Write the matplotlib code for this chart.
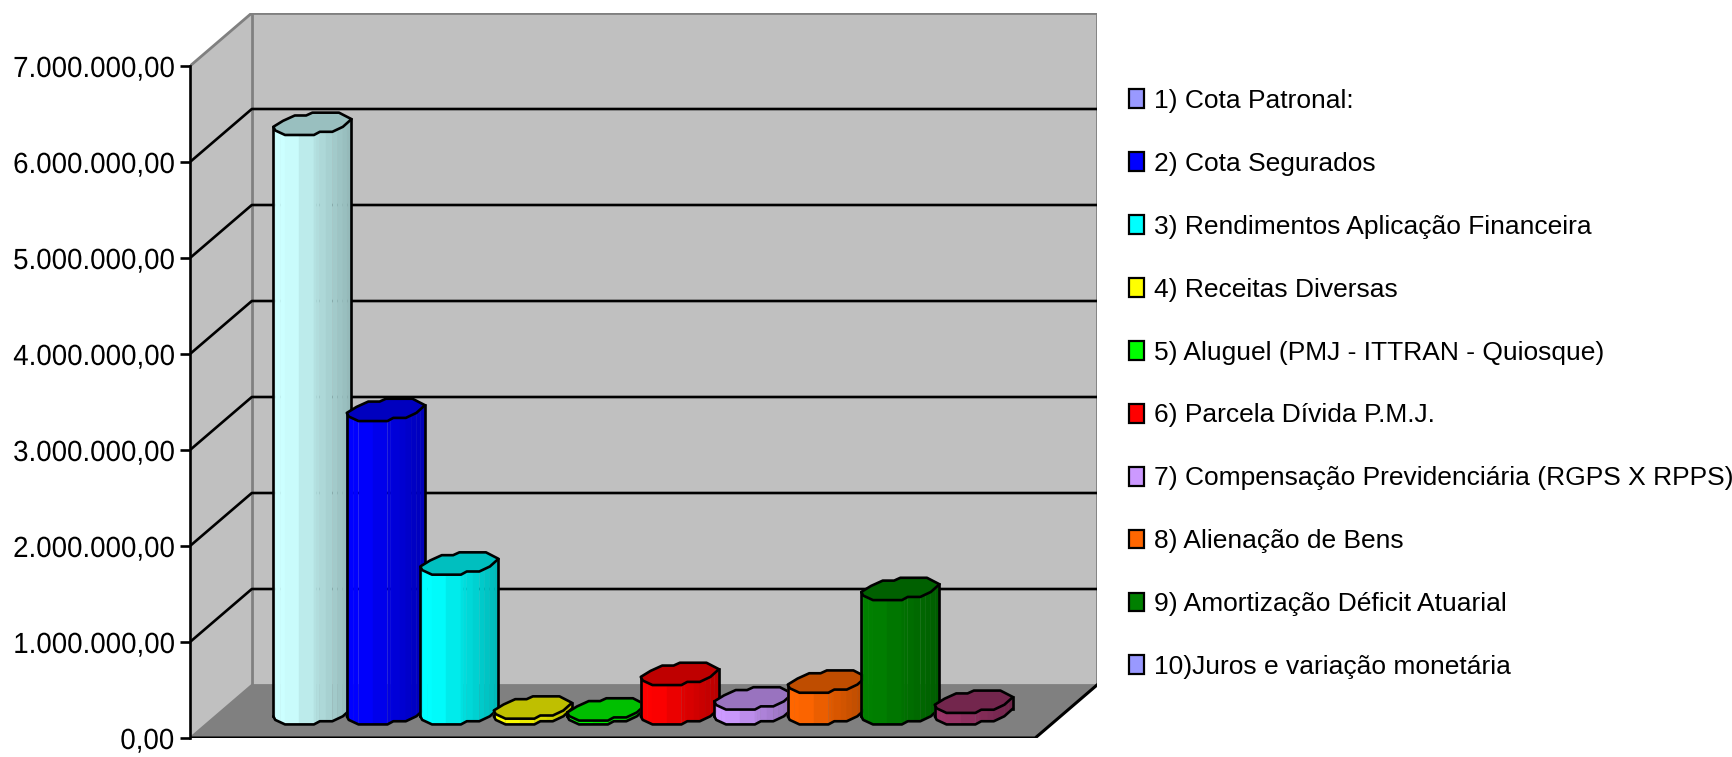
#!/usr/bin/env python3
import matplotlib
matplotlib.use('Agg')
import matplotlib.pyplot as plt
from matplotlib.colors import to_rgb
from matplotlib.patches import Patch, Polygon
from matplotlib.patheffects import AbstractPathEffect
from matplotlib.ticker import FuncFormatter
from matplotlib.transforms import Affine2D
import numpy as np

# ── Data ─────────────────────────────────────────────────────────
LABELS = ["1) Cota Patronal:", "2) Cota Segurados",
          "3) Rendimentos Aplicação Financeira", "4) Receitas Diversas",
          "5) Aluguel (PMJ - ITTRAN - Quiosque)", "6) Parcela Dívida P.M.J.",
          "7) Compensação Previdenciária (RGPS X RPPS)", "8) Alienação de Bens",
          "9) Amortização Déficit Atuarial", "10)Juros e variação monetária"]
VALUES = [6140000, 3160000, 1560000, 60000, 40000,
          410000, 155000, 330000, 1295000, 120000]
BAR_COLORS = ["#CCFFFF", "#0000FF", "#00FFFF", "#FFFF00", "#00FF00",
              "#FF0000", "#CC99FF", "#FF6600", "#008000", "#993366"]
LEGEND_COLORS = ["#9999FF", "#0000FF", "#00FFFF", "#FFFF00", "#00FF00",
                 "#FF0000", "#CC99FF", "#FF6600", "#008000", "#9999FF"]
TICKS = [0, 1000000, 2000000, 3000000, 4000000, 5000000, 6000000, 7000000]

# ── Style ────────────────────────────────────────────────────────
FONT = "Liberation Sans"
WALL = "#C0C0C0"
FLOOR = "#808080"
LW = 1.9

# oblique depth of the box, in data units
DX = 0.841
DY = 552000
XMAX = 11.5
YMAX = TICKS[-1]
BAR_DEPTH = 0.47
HALF_X = 0.532
HALF_Y = 118000

# lumpy outline of a cylinder cap (Excel draws them like this)
CAP_X = [-1.0, -.75, -.45, -.16, 0, .68, 1.0, .78, .51, .19, .04, -.7, -.95]
CAP_Y = [-.28, .25, .72, .72, .97, .97, .4, -.28, -.72, -.72, -1.0, -1.0, -.6]


class Squeeze(AbstractPathEffect):
    """Narrows a right aligned text, the original font is a condensed Arial."""

    def __init__(self, sx):
        super().__init__()
        self.sx = sx

    def draw_path(self, renderer, gc, tpath, affine, rgbFace=None):
        x0 = tpath.get_extents().x1
        t = Affine2D().translate(-x0, 0).scale(self.sx, 1).translate(x0, 0)
        renderer.draw_path(gc, tpath, t + affine, rgbFace)


def fmt_br(v, _pos=None):
    s = f"{v:,.2f}"
    return s.replace(",", "X").replace(".", ",").replace("X", ".")


def shade(color, f):
    return tuple(c * f for c in to_rgb(color))


def draw_box(ax):
    ax.add_patch(Polygon([(0, 0), (DX, DY), (DX, YMAX + DY), (0, YMAX)],
                         fc=WALL, ec="none", zorder=1))
    ax.add_patch(Polygon([(DX, DY), (XMAX + DX, DY), (XMAX + DX, YMAX + DY), (DX, YMAX + DY)],
                         fc=WALL, ec=FLOOR, lw=2, zorder=1))
    ax.add_patch(Polygon([(0, 0), (XMAX, 0), (XMAX + DX, DY), (DX, DY)],
                         fc=FLOOR, ec="none", zorder=1))
    for v in TICKS[1:-1]:
        ax.plot([0, DX, XMAX + DX], [v, v + DY, v + DY], color="black", lw=LW, zorder=2)
    ax.plot([0, DX], [YMAX, YMAX + DY], color=FLOOR, lw=2, zorder=2)
    ax.plot([0, DX], [0, DY], color=FLOOR, lw=1.5, zorder=2)
    ax.plot([0, XMAX, XMAX + DX], [0, 0, DY], color="black", lw=2.2, zorder=2)


def draw_cylinder(ax, i, value, color):
    cx = i + 1.27 + BAR_DEPTH * DX
    base = BAR_DEPTH * DY
    top = value + base
    px = cx + np.array(CAP_X) * HALF_X
    py = np.array(CAP_Y) * HALF_Y

    # lower chain of the outline, left to right, doubled up for thin bands
    chain = [0, 12, 11, 10, 9, 8, 7, 6]
    t = np.arange(len(chain))
    tt = np.linspace(0, len(chain) - 1, 2 * len(chain) - 1)
    sx = np.interp(tt, t, np.array(CAP_X)[chain])
    cxs = np.interp(tt, t, px[chain])
    cys = np.interp(tt, t, py[chain])

    z = 3 + i
    for k in range(len(tt) - 1):
        m = (sx[k] + sx[k + 1]) / 2
        f = np.interp(m, [-0.6, 1.0], [1.0, 0.72])
        c = shade(color, f)
        ax.add_patch(Polygon([(cxs[k], base + cys[k]), (cxs[k + 1], base + cys[k + 1]),
                              (cxs[k + 1], top + cys[k + 1]), (cxs[k], top + cys[k])],
                             fc=c, ec=c, lw=0.3, zorder=z))
    ax.plot(cxs, base + cys, color="black", lw=LW, zorder=z, solid_capstyle="round")
    ax.plot([cxs[0], cxs[0]], [base + cys[0], top + cys[0]], color="black", lw=LW, zorder=z)
    ax.plot([cxs[-1], cxs[-1]], [base + cys[-1], top + cys[-1]], color="black", lw=LW, zorder=z)
    ax.add_patch(Polygon(np.column_stack([px, top + py]), fc=shade(color, 0.75),
                         ec="black", lw=LW, joinstyle="round", zorder=z))


fig = plt.figure(figsize=(17.33, 7.57), dpi=100, facecolor="white")
ax = fig.add_axes([190 / 1733, 19 / 757, 907 / 1733, 725 / 757])
ax.set_xlim(0, XMAX + DX)
ax.set_ylim(0, YMAX + DY)
ax.patch.set_visible(False)

draw_box(ax)
for i, (val, col) in enumerate(zip(VALUES, BAR_COLORS)):
    draw_cylinder(ax, i, val, col)

for name in ("top", "right", "bottom"):
    ax.spines[name].set_visible(False)
ax.spines["left"].set_bounds(0, YMAX)
ax.spines["left"].set_linewidth(LW)
ax.set_xticks([])
ax.set_yticks(TICKS)
ax.yaxis.set_major_formatter(FuncFormatter(fmt_br))
ax.tick_params(axis="y", length=7, width=LW, pad=4.5)
for lab in ax.get_yticklabels():
    lab.set_family(FONT)
    lab.set_fontsize(21)
    lab.set_path_effects([Squeeze(0.95)])

handles = [Patch(fc=c, ec="black", lw=1.6) for c in LEGEND_COLORS]
fig.legend(handles, LABELS, loc="upper left", bbox_to_anchor=(1129 / 1733, 1 - 89 / 757),
           bbox_transform=fig.transFigure, frameon=False, ncol=1,
           prop={"family": FONT, "size": 19}, handlelength=0.568, handleheight=0.716,
           handletextpad=0.364, labelspacing=1.474, borderpad=0, borderaxespad=0)

fig.savefig("out.png", dpi=100, facecolor="white")
plt.close(fig)
